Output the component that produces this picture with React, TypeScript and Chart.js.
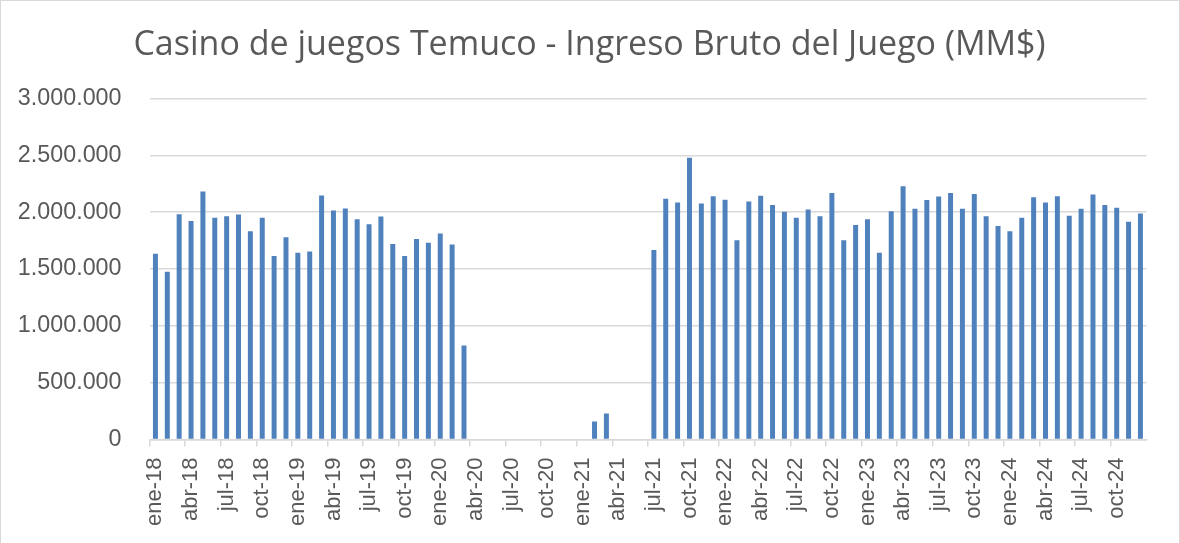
import React, { useEffect, useRef } from "react";
import { Chart, registerables } from "chart.js";

Chart.register(...registerables);

const MONTHS = ["ene", "feb", "mar", "abr", "may", "jun", "jul", "ago", "sep", "oct", "nov", "dic"];
const YEARS = ["18", "19", "20", "21", "22", "23", "24"];

const categories: string[] = [];
YEARS.forEach((y) => MONTHS.forEach((m) => categories.push(`${m}-${y}`)));

const values2018 = [1635000, 1476000, 1982000, 1923000, 2182000, 1950000, 1965000, 1979000, 1832000, 1950000, 1615000, 1779000];
const values2019 = [1644000, 1653000, 2147000, 2015000, 2032000, 1938000, 1894000, 1962000, 1721000, 1615000, 1765000, 1732000];
const values2020 = [1812000, 1715000, 826000, 0, 0, 0, 0, 0, 0, 0, 0, 0];
const values2021 = [0, 159000, 229000, 0, 0, 0, 1668000, 2118000, 2085000, 2479000, 2076000, 2141000];
const values2022 = [2109000, 1753000, 2094000, 2144000, 2062000, 2003000, 1950000, 2024000, 1965000, 2168000, 1753000, 1888000];
const values2023 = [1938000, 1644000, 2009000, 2229000, 2029000, 2106000, 2138000, 2168000, 2029000, 2159000, 1965000, 1879000];
const values2024 = [1832000, 1950000, 2132000, 2085000, 2141000, 1968000, 2029000, 2156000, 2062000, 2038000, 1915000, 1988000];

const ingreso = [...values2018, ...values2019, ...values2020, ...values2021, ...values2022, ...values2023, ...values2024];

const yTicks = [0, 500000, 1000000, 1500000, 2000000, 2500000, 3000000];

const TITLE = "Casino de juegos Temuco - Ingreso Bruto del Juego (MM$)";
const TEXT = "#595959";
const GRID = "#d9d9d9";

function fmt(v: number): string {
  return String(Math.round(v)).replace(/\B(?=(\d{3})+(?!\d))/g, ".");
}

const titlePlugin = {
  id: "centeredTitle",
  afterDraw(chart: any) {
    const ctx = chart.ctx;
    ctx.save();
    ctx.fillStyle = TEXT;
    ctx.font = "normal 34px 'Open Sans', sans-serif";
    ctx.textAlign = "center";
    ctx.textBaseline = "alphabetic";
    ctx.fillText(TITLE, 588.5, 53.5);
    ctx.restore();
  },
};

export default function App() {
  const ref = useRef<HTMLCanvasElement | null>(null);

  useEffect(() => {
    document.body.style.margin = "0";
    const ctx = ref.current;
    if (!ctx) return;
    const chart = new Chart(ctx, {
      type: "bar",
      data: {
        labels: categories,
        datasets: [
          {
            label: "Ingreso Bruto del Juego",
            data: ingreso,
            backgroundColor: "#4f81bd",
            borderWidth: 0,
            categoryPercentage: 1,
            barPercentage: 0.42,
          },
        ],
      },
      options: {
        animation: false,
        responsive: false,
        maintainAspectRatio: false,
        layout: { padding: { left: 0, right: 27.5, top: 97.5, bottom: 0 } },
        plugins: {
          legend: { display: false },
          tooltip: { enabled: false },
          title: { display: false },
        },
        scales: {
          x: {
            offset: true,
            grid: {
              offset: true,
              drawOnChartArea: false,
              drawTicks: true,
              tickLength: 7,
              lineWidth: 1.5,
              color: (c: any) => (c.index % 3 === 0 ? GRID : "rgba(0,0,0,0)"),
            },
            border: { display: true, color: GRID, width: 1.5 },
            ticks: {
              autoSkip: false,
              maxRotation: 90,
              minRotation: 90,
              padding: 11,
              color: TEXT,
              font: { family: "'Liberation Sans', Arial, sans-serif", size: 22 },
              callback: (_v: any, i: number) => (i % 3 === 0 ? categories[i] : ""),
            },
            afterFit: (scale: any) => {
              scale.height = 102.5;
            },
          },
          y: {
            min: 0,
            max: 3000000,
            afterBuildTicks: (scale: any) => {
              scale.ticks = yTicks.map((v) => ({ value: v }));
            },
            grid: { color: GRID, lineWidth: 1.5, drawTicks: false },
            border: { display: false },
            ticks: {
              padding: 28,
              color: TEXT,
              font: { family: "'Liberation Sans', Arial, sans-serif", size: 23.3 },
              callback: (v: any) => fmt(Number(v)),
            },
            afterFit: (scale: any) => {
              scale.width = 148.5;
            },
          },
        },
      },
      plugins: [titlePlugin],
    } as any);
    return () => chart.destroy();
  }, []);

  return (
    <div
      style={{
        position: "absolute",
        left: 0,
        top: 0,
        width: 1180,
        height: 543,
        boxSizing: "border-box",
        borderTop: "1.5px solid #d9d9d9",
        borderLeft: "1.5px solid #d9d9d9",
        borderRight: "1.5px solid #d9d9d9",
        background: "#fff",
        overflow: "hidden",
      }}
    >
      <canvas ref={ref} width={1177} height={541} style={{ display: "block" }} />
    </div>
  );
}
